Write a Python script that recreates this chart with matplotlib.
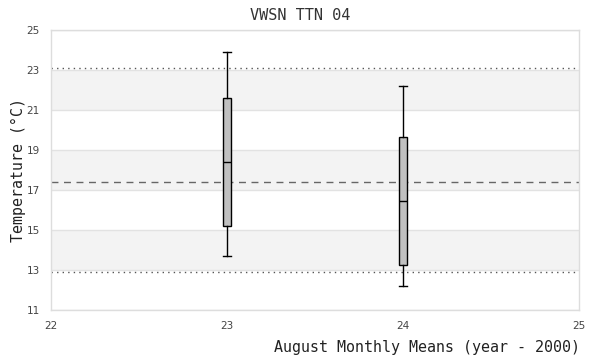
import matplotlib
matplotlib.use("Agg")
import matplotlib.pyplot as plt

# August monthly means, years after 2000
years = [23, 24]
whisker_low = [13.68, 12.18]
q1 = [15.2, 13.23]
medians = [18.38, 16.43]
q3 = [21.58, 19.63]
whisker_high = [23.88, 22.2]

mean_line = 17.38
upper_limit = 23.08
lower_limit = 12.9

y_ticks = [11, 13, 15, 17, 19, 21, 23, 25]
x_ticks = [22, 23, 24, 25]

fig = plt.figure(figsize=(6, 3.6), dpi=100)
ax = fig.add_axes([0.085, 0.1389, 0.88, 0.7778])

ax.set_xlim(22, 25)
ax.set_ylim(11, 25)

# alternating bands
for lo in [13, 17, 21]:
    ax.axhspan(lo, lo + 2, color="#f3f3f3", zorder=0, lw=0)
for y in y_ticks:
    ax.axhline(y, color="#e2e2e2", lw=1, zorder=1)

ax.axhline(upper_limit, color="#555555", lw=1, ls=(0, (1, 3)), zorder=2)
ax.axhline(lower_limit, color="#555555", lw=1, ls=(0, (1, 3)), zorder=2)
ax.axhline(mean_line, color="#666666", lw=1, ls=(0, (5, 4)), zorder=2)

stats = []
for i in range(len(years)):
    stats.append({
        "whislo": whisker_low[i], "q1": q1[i], "med": medians[i],
        "q3": q3[i], "whishi": whisker_high[i], "fliers": [],
    })
ax.bxp(stats, positions=years, widths=0.045, patch_artist=True,
       showfliers=False, manage_ticks=False,
       boxprops=dict(facecolor="#c0c0c0", edgecolor="black", lw=1),
       medianprops=dict(color="black", lw=1),
       whiskerprops=dict(color="black", lw=1),
       capprops=dict(color="black", lw=1),
       capwidths=0.05, zorder=3)

ax.set_xticks(x_ticks)
ax.set_yticks(y_ticks)
ax.set_xticklabels([str(t) for t in x_ticks], fontsize=7.5, color="#444444")
ax.set_yticklabels([str(t) for t in y_ticks], fontsize=7.5, color="#444444")
ax.tick_params(length=0, pad=8)
for s in ax.spines.values():
    s.set_color("#dddddd")
    s.set_linewidth(1)

fig.suptitle("VWSN TTN 04", x=0.5, y=0.978, fontsize=11,
             family="DejaVu Sans Mono", color="#333333")
fig.text(0.03, 0.5278, "Temperature (°C)", rotation=90, ha="center",
         va="center", fontsize=10.7, family="DejaVu Sans Mono", color="#222222")
fig.text(0.966, 0.035, "August Monthly Means (year - 2000)", ha="right",
         va="center", fontsize=10.8, family="DejaVu Sans Mono", color="#222222")

fig.savefig("out.png", dpi=100)
